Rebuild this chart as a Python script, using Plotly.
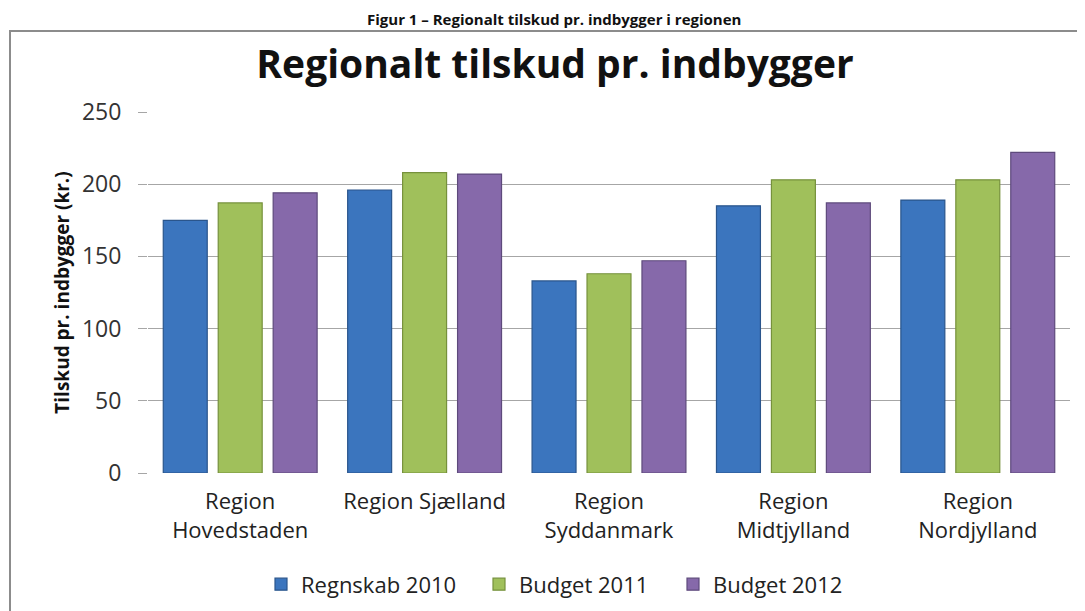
import plotly.graph_objects as go

categories = ["Region<br>Hovedstaden", "Region Sjælland", "Region<br>Syddanmark",
              "Region<br>Midtjylland", "Region<br>Nordjylland"]
regnskab_2010 = [175, 196, 133, 185, 189]
budget_2011 = [187, 208, 138, 203, 203]
budget_2012 = [194, 207, 147, 187, 222]
series_names = ["Regnskab 2010", "Budget 2011", "Budget 2012"]
y_ticks = [0, 50, 100, 150, 200, 250]

# page body adds an 8px offset; layout targets below are in screen pixels
OFF = 8
W, H = 1085, 611
plot_left, plot_right, plot_top, plot_bottom = 148, 1070, 112, 472.7
L = plot_left - OFF
R = W - (plot_right - OFF)
T = plot_top - OFF
B = H - (plot_bottom - OFF)
pw, ph = W - L - R, H - T - B

def px(x):
    return (x - OFF - L) / pw

def py(y):
    return (H - B - (y - OFF)) / ph

fills = ["#3B75BE", "#A0C05B", "#8669AA"]
edges = ["#2A558C", "#76913C", "#5E4A7C"]
legend_ids = ["legend", "legend2", "legend3"]
legend_sym_left = [275, 493, 687]

font = "Open Sans"
fig = go.Figure()
for name, vals, fc, ec, lid in zip(series_names, [regnskab_2010, budget_2011, budget_2012],
                                   fills, edges, legend_ids):
    fig.add_trace(go.Bar(x=categories, y=vals, name=name, legend=lid,
                         marker=dict(color=fc, line=dict(color=ec, width=1.2))))

legend_common = dict(orientation="h", xanchor="left", yanchor="middle",
                     font=dict(family=font, size=22, color="#222222"),
                     itemwidth=30, bgcolor="rgba(0,0,0,0)")
legend_layout = {}
for lid, sx in zip(legend_ids, legend_sym_left):
    legend_layout[lid] = dict(legend_common, x=px(sx - 14), y=py(584))

fig.update_layout(
    width=W, height=H,
    margin=dict(l=L, r=R, t=T, b=B, autoexpand=False),
    paper_bgcolor="white", plot_bgcolor="white",
    barmode="group", bargap=0.106, bargroupgap=0.2,
    font=dict(family=font, color="#333333"),
    title=dict(text="<b>Regionalt tilskud pr. indbygger</b>",
               font=dict(family=font, size=39, color="#111111"),
               x=px(555), xref="paper", xanchor="center",
               y=1 - (64 - OFF) / H, yref="container", yanchor="middle"),
    showlegend=True,
    xaxis=dict(tickfont=dict(family=font, size=22, color="#222222"),
               showgrid=False, showline=False, ticks="", ticklabelstandoff=13),
    yaxis=dict(range=[0, 250], tickvals=y_ticks, tickfont=dict(family=font, size=23, color="#333333"),
               showgrid=True, gridcolor="#A6A6A6", gridwidth=1.3,
               ticks="outside", ticklen=9, tickcolor="#A6A6A6",
               ticklabelstandoff=12, zeroline=False, showline=False,
               title=dict(text="<b>Tilskud pr. indbygger (kr.)</b>",
                          font=dict(family=font, size=19, color="#111111"), standoff=7)),
    **legend_layout,
)

fig.add_shape(type="rect", xref="paper", yref="paper",
              x0=px(10), x1=px(1100), y0=py(630), y1=py(31),
              line=dict(color="#8C8C8C", width=2), fillcolor="rgba(0,0,0,0)", layer="below")

fig.add_annotation(text="<b>Figur 1 – Regionalt tilskud pr. indbygger i regionen</b>",
                   xref="paper", yref="paper", x=px(554), y=py(19), xanchor="center", yanchor="middle",
                   showarrow=False, font=dict(family=font, size=15, color="#111111"))

fig.write_html("out.html")
